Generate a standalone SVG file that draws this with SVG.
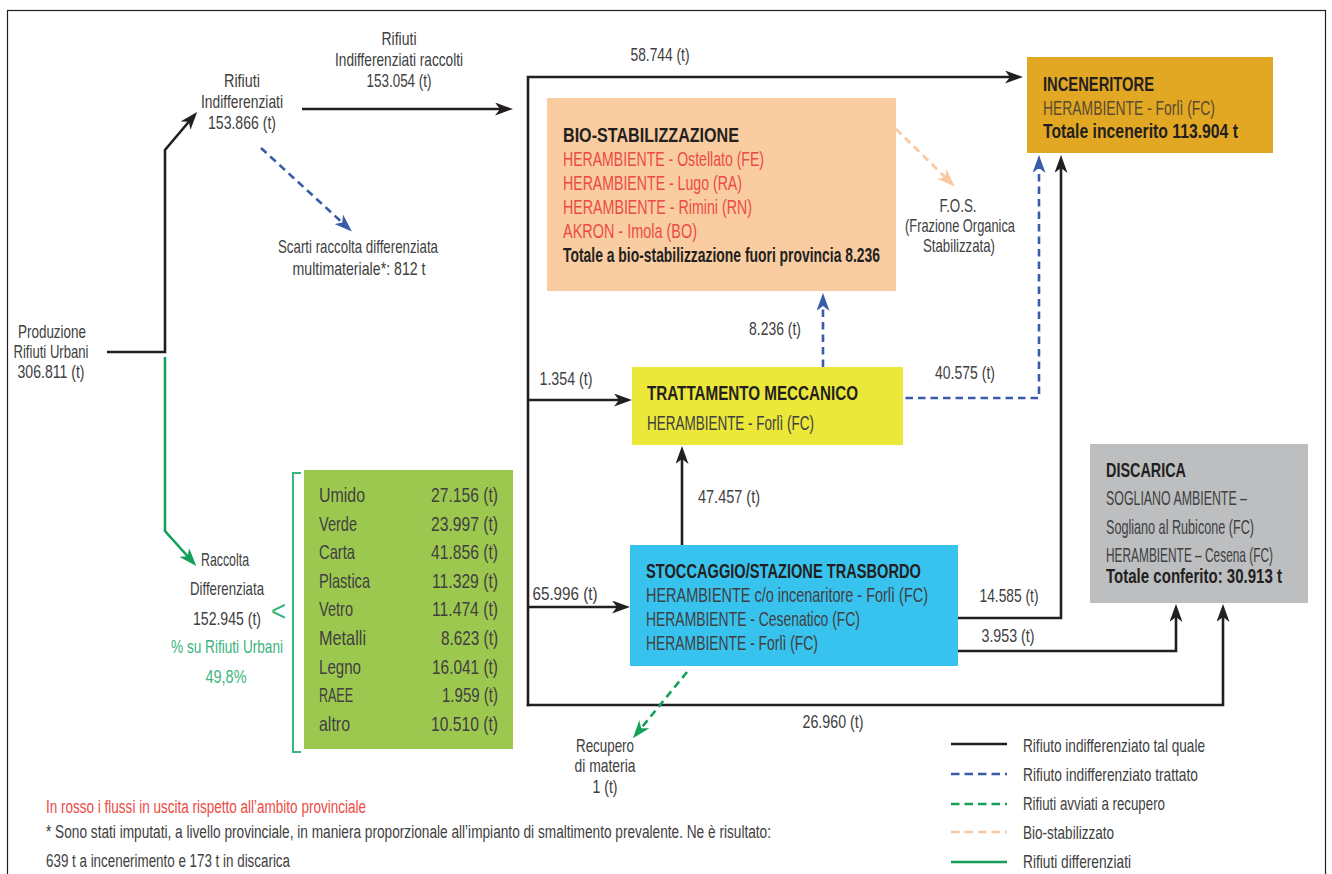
<svg xmlns="http://www.w3.org/2000/svg" width="1332" height="874" viewBox="0 0 1332 874">
<style>
text{font-family:"Liberation Sans",Arial,sans-serif;fill:#404041}
.l{font-size:19px}
.c{text-anchor:middle}
.x{font-size:21px}
.b{font-weight:bold;fill:#231f20}
.r{fill:#ec4b45}
.g{fill:#3ab57c}
.k{fill:none;stroke:#231f20;stroke-width:2.6}
.bd{fill:none;stroke:#3a5ba8;stroke-width:2.6;stroke-dasharray:7.5 5}
.gd{fill:none;stroke:#14a05a;stroke-width:2.6;stroke-dasharray:7.5 5}
.pd{fill:none;stroke:#f8c8a0;stroke-width:2.6;stroke-dasharray:7.5 5}
.gs{fill:none;stroke:#14a05a;stroke-width:2.6}
</style>
<defs>
<marker id="ak" markerUnits="userSpaceOnUse" markerWidth="18" markerHeight="13" refX="10" refY="6.5" orient="auto"><path d="M0,0 L18,6.5 L0,13 L5,6.5 Z" fill="#231f20"/></marker>
<marker id="ab" markerUnits="userSpaceOnUse" markerWidth="18" markerHeight="13" refX="10" refY="6.5" orient="auto"><path d="M0,0 L18,6.5 L0,13 L5,6.5 Z" fill="#3a5ba8"/></marker>
<marker id="ag" markerUnits="userSpaceOnUse" markerWidth="18" markerHeight="13" refX="10" refY="6.5" orient="auto"><path d="M0,0 L18,6.5 L0,13 L5,6.5 Z" fill="#14a05a"/></marker>
<marker id="ap" markerUnits="userSpaceOnUse" markerWidth="18" markerHeight="13" refX="10" refY="6.5" orient="auto"><path d="M0,0 L18,6.5 L0,13 L5,6.5 Z" fill="#f8c8a0"/></marker>
</defs>
<rect x="7.5" y="10.5" width="1318" height="900" fill="none" stroke="#231f20" stroke-width="1.2"/>

<g id="connectors">
<path class="k" d="M107,352 H165 V150 L192,118" marker-end="url(#ak)"/>
<path class="gs" d="M165,357 V531 L191,560" marker-end="url(#ag)"/>
<path class="k" d="M302,109 H505" marker-end="url(#ak)"/>
<path class="bd" d="M261,148 L346,226" marker-end="url(#ab)"/>
<path class="k" style="stroke-linecap:square" d="M528,705 V77 H1015" marker-end="url(#ak)"/>
<path class="k" style="stroke-linecap:square" d="M528,705 H1223 V612" marker-end="url(#ak)"/>
<path class="k" d="M528,400 H624" marker-end="url(#ak)"/>
<path class="k" d="M528,607 H622" marker-end="url(#ak)"/>
<path class="bd" d="M823,367 V301" marker-end="url(#ab)"/>
<path class="bd" d="M893,398 H1039 V163" marker-end="url(#ab)"/>
<path class="k" d="M682,545 V454" marker-end="url(#ak)"/>
<path class="k" d="M958,618 H1061 V163" marker-end="url(#ak)"/>
<path class="k" d="M958,651 H1176 V612" marker-end="url(#ak)"/>
<path class="gd" d="M687,672 L638,732" marker-end="url(#ag)"/>
<path class="pd" d="M896,129 L949,181" marker-end="url(#ap)"/>
<text class="l c" x="660" y="61" textLength="59" lengthAdjust="spacingAndGlyphs">58.744 (t)</text>
<text class="l c" x="775" y="335" textLength="52" lengthAdjust="spacingAndGlyphs">8.236 (t)</text>
<text class="l c" x="965" y="379" textLength="60" lengthAdjust="spacingAndGlyphs">40.575 (t)</text>
<text class="l c" x="566" y="385" textLength="53" lengthAdjust="spacingAndGlyphs">1.354 (t)</text>
<text class="l c" x="729" y="503" textLength="62" lengthAdjust="spacingAndGlyphs">47.457 (t)</text>
<text class="l c" x="565" y="600" textLength="65" lengthAdjust="spacingAndGlyphs">65.996 (t)</text>
<text class="l c" x="1009" y="602" textLength="59" lengthAdjust="spacingAndGlyphs">14.585 (t)</text>
<text class="l c" x="1008" y="642" textLength="53" lengthAdjust="spacingAndGlyphs">3.953 (t)</text>
<text class="l c" x="833" y="728" textLength="61" lengthAdjust="spacingAndGlyphs">26.960 (t)</text>
</g>

<g id="produzione">
<text class="l c" x="52" y="338" textLength="68" lengthAdjust="spacingAndGlyphs">Produzione</text>
<text class="l c" x="51" y="358" textLength="75" lengthAdjust="spacingAndGlyphs">Rifiuti Urbani</text>
<text class="l c" x="51" y="378" textLength="67" lengthAdjust="spacingAndGlyphs">306.811 (t)</text>
</g>

<g id="rifiuti-indiff">
<text class="l c" x="242" y="87" textLength="36" lengthAdjust="spacingAndGlyphs">Rifiuti</text>
<text class="l c" x="242" y="108" textLength="82" lengthAdjust="spacingAndGlyphs">Indifferenziati</text>
<text class="l c" x="242" y="129" textLength="68" lengthAdjust="spacingAndGlyphs">153.866 (t)</text>
</g>

<g id="raccolti">
<text class="l c" x="399" y="45" textLength="35" lengthAdjust="spacingAndGlyphs">Rifiuti</text>
<text class="l c" x="399" y="66" textLength="128" lengthAdjust="spacingAndGlyphs">Indifferenziati raccolti</text>
<text class="l c" x="399" y="87" textLength="65" lengthAdjust="spacingAndGlyphs">153.054 (t)</text>
</g>

<g id="scarti">
<text class="l c" x="358" y="253" textLength="160" lengthAdjust="spacingAndGlyphs">Scarti raccolta differenziata</text>
<text class="l c" x="359" y="275" textLength="133" lengthAdjust="spacingAndGlyphs">multimateriale*: 812 t</text>
</g>

<g id="bio">
<rect x="547" y="98" width="349" height="193" fill="#f9cda1"/>
<text class="x b" x="563" y="142" textLength="176" lengthAdjust="spacingAndGlyphs">BIO-STABILIZZAZIONE</text>
<text class="x r" x="563" y="166" textLength="201" lengthAdjust="spacingAndGlyphs">HERAMBIENTE - Ostellato (FE)</text>
<text class="x r" x="563" y="190" textLength="179" lengthAdjust="spacingAndGlyphs">HERAMBIENTE - Lugo (RA)</text>
<text class="x r" x="563" y="214" textLength="189" lengthAdjust="spacingAndGlyphs">HERAMBIENTE - Rimini (RN)</text>
<text class="x r" x="563" y="238" textLength="134" lengthAdjust="spacingAndGlyphs">AKRON - Imola (BO)</text>
<text class="x" x="563" y="262" textLength="317" lengthAdjust="spacingAndGlyphs" style="fill:#231f20;font-weight:600">Totale a bio-stabilizzazione fuori provincia 8.236</text>
</g>

<g id="fos">
<text class="l c" x="958" y="212" textLength="37" lengthAdjust="spacingAndGlyphs">F.O.S.</text>
<text class="l c" x="960" y="232" textLength="110" lengthAdjust="spacingAndGlyphs">(Frazione Organica</text>
<text class="l c" x="959" y="252" textLength="72" lengthAdjust="spacingAndGlyphs">Stabilizzata)</text>
</g>

<g id="inceneritore">
<rect x="1027" y="57" width="246" height="96" fill="#e3a823"/>
<text class="x b" x="1043" y="91" textLength="111" lengthAdjust="spacingAndGlyphs">INCENERITORE</text>
<text class="x" x="1043" y="115" textLength="172" lengthAdjust="spacingAndGlyphs" style="fill:#5a4a30">HERAMBIENTE - Forlì (FC)</text>
<text class="x" x="1043" y="138" textLength="195" lengthAdjust="spacingAndGlyphs" style="fill:#231f20;font-weight:600">Totale incenerito 113.904 t</text>
</g>

<g id="trattamento">
<rect x="632" y="367" width="271" height="78" fill="#ebe83a"/>
<text class="x b" x="647" y="400" textLength="211" lengthAdjust="spacingAndGlyphs">TRATTAMENTO MECCANICO</text>
<text class="x" x="647" y="430" textLength="167" lengthAdjust="spacingAndGlyphs">HERAMBIENTE - Forlì (FC)</text>
</g>

<g id="stoccaggio">
<rect x="630" y="545" width="328" height="121" fill="#38c3ef"/>
<text class="x b" x="646" y="578" textLength="275" lengthAdjust="spacingAndGlyphs">STOCCAGGIO/STAZIONE TRASBORDO</text>
<text class="x" x="646" y="602" textLength="282" lengthAdjust="spacingAndGlyphs">HERAMBIENTE c/o incenaritore - Forlì (FC)</text>
<text class="x" x="646" y="626" textLength="214" lengthAdjust="spacingAndGlyphs">HERAMBIENTE - Cesenatico (FC)</text>
<text class="x" x="646" y="650" textLength="172" lengthAdjust="spacingAndGlyphs">HERAMBIENTE - Forlì (FC)</text>
</g>

<g id="discarica">
<rect x="1090" y="444" width="218" height="159" fill="#bcbec0"/>
<text class="x b" x="1106" y="477" textLength="80" lengthAdjust="spacingAndGlyphs">DISCARICA</text>
<text class="x" x="1106" y="505" textLength="141" lengthAdjust="spacingAndGlyphs">SOGLIANO AMBIENTE –</text>
<text class="x" x="1106" y="534" textLength="148" lengthAdjust="spacingAndGlyphs">Sogliano al Rubicone (FC)</text>
<text class="x" x="1106" y="562" textLength="167" lengthAdjust="spacingAndGlyphs">HERAMBIENTE – Cesena (FC)</text>
<text class="x" x="1106" y="583" textLength="176" lengthAdjust="spacingAndGlyphs" style="fill:#231f20;font-weight:600">Totale conferito: 30.913 t</text>
</g>

<g id="raccolta-differenziata">
<text class="l c" x="225" y="566" textLength="48" lengthAdjust="spacingAndGlyphs">Raccolta</text>
<text class="l c" x="227" y="595" textLength="74" lengthAdjust="spacingAndGlyphs">Differenziata</text>
<text class="l c" x="227" y="625" textLength="68" lengthAdjust="spacingAndGlyphs">152.945 (t)</text>
<text x="271" y="621" style="font-size:30px;fill:#3ab57c" textLength="15" lengthAdjust="spacingAndGlyphs">&lt;</text>
<text class="l c g" x="227" y="653" textLength="112" lengthAdjust="spacingAndGlyphs">% su Rifiuti Urbani</text>
<text class="l c g" x="226" y="683" textLength="41" lengthAdjust="spacingAndGlyphs">49,8%</text>
<path d="M301,473 H293 V752 H301" fill="none" stroke="#3ab57c" stroke-width="2"/>
</g>

<g id="dettaglio">
<rect x="304" y="470" width="209" height="279" fill="#9dc84f"/>
<g style="font-size:21px">
<text x="319" y="502" textLength="46" lengthAdjust="spacingAndGlyphs">Umido</text>
<text x="319" y="531" textLength="38" lengthAdjust="spacingAndGlyphs">Verde</text>
<text x="319" y="559" textLength="36" lengthAdjust="spacingAndGlyphs">Carta</text>
<text x="319" y="588" textLength="51" lengthAdjust="spacingAndGlyphs">Plastica</text>
<text x="319" y="616" textLength="34" lengthAdjust="spacingAndGlyphs">Vetro</text>
<text x="319" y="645" textLength="47" lengthAdjust="spacingAndGlyphs">Metalli</text>
<text x="319" y="674" textLength="42" lengthAdjust="spacingAndGlyphs">Legno</text>
<text x="319" y="702" textLength="34" lengthAdjust="spacingAndGlyphs">RAEE</text>
<text x="319" y="731" textLength="31" lengthAdjust="spacingAndGlyphs">altro</text>
</g>
<g style="font-size:21px;text-anchor:end">
<text x="498" y="502" textLength="67" lengthAdjust="spacingAndGlyphs">27.156 (t)</text>
<text x="498" y="531" textLength="67" lengthAdjust="spacingAndGlyphs">23.997 (t)</text>
<text x="498" y="559" textLength="67" lengthAdjust="spacingAndGlyphs">41.856 (t)</text>
<text x="498" y="588" textLength="66" lengthAdjust="spacingAndGlyphs">11.329 (t)</text>
<text x="498" y="616" textLength="66" lengthAdjust="spacingAndGlyphs">11.474 (t)</text>
<text x="498" y="645" textLength="57" lengthAdjust="spacingAndGlyphs">8.623 (t)</text>
<text x="498" y="674" textLength="66" lengthAdjust="spacingAndGlyphs">16.041 (t)</text>
<text x="498" y="702" textLength="56" lengthAdjust="spacingAndGlyphs">1.959 (t)</text>
<text x="498" y="731" textLength="67" lengthAdjust="spacingAndGlyphs">10.510 (t)</text>
</g>
</g>

<g id="recupero">
<text class="l c" x="605" y="752" textLength="58" lengthAdjust="spacingAndGlyphs">Recupero</text>
<text class="l c" x="605" y="772" textLength="61" lengthAdjust="spacingAndGlyphs">di materia</text>
<text class="l c" x="605" y="793" textLength="25" lengthAdjust="spacingAndGlyphs">1 (t)</text>
</g>

<g id="legend">
<line x1="951" y1="744" x2="1007" y2="744" class="k"/>
<line x1="951" y1="774" x2="1007" y2="774" class="bd" style="stroke-dasharray:8.5 5"/>
<line x1="951" y1="804" x2="1007" y2="804" class="gd" style="stroke-dasharray:8.5 5"/>
<line x1="951" y1="832" x2="1007" y2="832" class="pd" style="stroke-dasharray:8.5 5"/>
<line x1="951" y1="862" x2="1007" y2="862" class="gs"/>
<text class="l" x="1023" y="752" textLength="182" lengthAdjust="spacingAndGlyphs">Rifiuto indifferenziato tal quale</text>
<text class="l" x="1023" y="781" textLength="175" lengthAdjust="spacingAndGlyphs">Rifiuto indifferenziato trattato</text>
<text class="l" x="1023" y="810" textLength="142" lengthAdjust="spacingAndGlyphs">Rifiuti avviati a recupero</text>
<text class="l" x="1023" y="839" textLength="91" lengthAdjust="spacingAndGlyphs">Bio-stabilizzato</text>
<text class="l" x="1023" y="868" textLength="108" lengthAdjust="spacingAndGlyphs">Rifiuti differenziati</text>
</g>

<g id="note">
<text class="l r" x="46" y="813" textLength="320" lengthAdjust="spacingAndGlyphs" style="font-size:18px">In rosso i flussi in uscita rispetto all’ambito provinciale</text>
<text class="l" x="46" y="838" textLength="725" lengthAdjust="spacingAndGlyphs" style="font-size:18px">* Sono stati imputati, a livello provinciale, in maniera proporzionale all’impianto di smaltimento prevalente. Ne è risultato:</text>
<text class="l" x="46" y="867" textLength="244" lengthAdjust="spacingAndGlyphs" style="font-size:18px">639 t a incenerimento e 173 t in discarica</text>
</g>
</svg>
